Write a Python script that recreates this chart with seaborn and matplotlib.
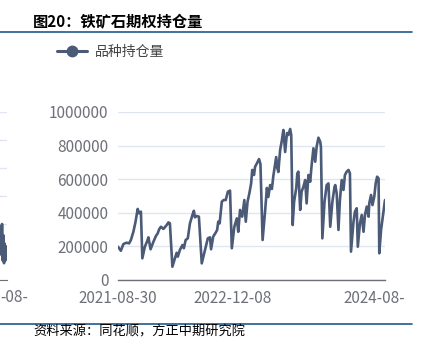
import matplotlib
matplotlib.use("Agg")
import matplotlib.pyplot as plt
from matplotlib.lines import Line2D
from matplotlib.transforms import ScaledTranslation
import seaborn as sns
import pandas as pd

# ---------------- data ----------------
title = "图20：铁矿石期权持仓量"
source = "资料来源：同花顺，方正中期研究院"
series_name = "品种持仓量"

# trading-day index along the category axis
day_index = [0, 8, 15, 24, 31, 36, 43, 49, 55, 59, 64, 68, 75, 82, 85, 91, 99, 106, 111, 115,
             120, 127, 136, 141, 145, 152, 159, 164, 167, 173, 180, 184, 189, 195, 201, 208, 212,
             215, 220, 226, 234, 243, 251, 257, 260, 266, 273, 277, 280, 284, 290, 295, 301, 307,
             313, 318, 325, 332, 336, 341, 347, 353, 357, 362, 367, 372, 375, 380, 383, 388, 394,
             398, 404, 411, 416, 420, 425, 430, 434, 442, 445, 448, 453, 458, 462, 467, 472, 476,
             481, 484, 488, 492, 498, 501, 504, 509, 513, 518, 523, 527, 532, 537, 541, 546, 551,
             555, 560, 565, 567, 571, 577, 583, 588, 593, 599, 605, 607, 611, 616, 620, 625, 630,
             634, 639, 644, 648, 651, 658, 662, 667, 670, 676, 681, 686, 690, 695, 700, 702, 707,
             711, 716, 720, 724, 728, 730, 735, 740, 746]
open_interest = [198000, 174000, 214000, 222000, 218000, 238000, 287000, 347000, 423000, 397000,
                 407000, 129000, 198000, 234000, 254000, 183000, 228000, 262000, 278000, 302000,
                 317000, 304000, 327000, 343000, 337000, 79000, 129000, 162000, 139000, 179000,
                 208000, 189000, 238000, 248000, 337000, 387000, 412000, 373000, 381000, 377000,
                 99000, 179000, 248000, 254000, 183000, 258000, 282000, 298000, 347000, 337000,
                 466000, 476000, 476000, 526000, 532000, 189000, 317000, 367000, 287000, 417000,
                 377000, 476000, 347000, 466000, 516000, 575000, 655000, 625000, 674000, 694000,
                 720000, 690000, 238000, 410000, 548000, 494000, 565000, 542000, 619000, 732000,
                 667000, 643000, 774000, 833000, 893000, 762000, 875000, 863000, 899000, 863000,
                 327000, 466000, 546000, 635000, 645000, 417000, 526000, 555000, 595000, 456000,
                 625000, 585000, 684000, 784000, 704000, 793000, 847000, 823000, 793000, 248000,
                 466000, 565000, 575000, 317000, 466000, 555000, 565000, 516000, 298000, 476000,
                 595000, 536000, 625000, 645000, 655000, 635000, 169000, 347000, 407000, 427000,
                 198000, 337000, 387000, 287000, 387000, 437000, 377000, 456000, 506000, 446000,
                 496000, 575000, 615000, 605000, 159000, 298000, 377000, 476000]
tick_index = [0, 320, 640, 746]
tick_labels = ["2021-08-30", "2022-12-08", "2024-08-", ""]
y_ticks = [0, 200000, 400000, 600000, 800000, 1000000]

# neighbouring (cropped) chart at the left edge
left_index = [90, 91, 92, 93, 94, 95, 96, 97, 98, 99, 100]
left_values = [1.3, 1.9, 0.9, 2.0, 0.7, 1.6, 0.6, 1.3, 0.7, 1.2, 0.8]
left_label = "-08-"

# ---------------- style ----------------
sns.set_style("white")
plt.rcParams["font.family"] = ["Noto Sans CJK SC", "DejaVu Sans"]

W, H = 425, 354
fig = plt.figure(figsize=(W / 100, H / 100), dpi=100)

line_color = "#4B5A77"
grid_color = "#E0E6F1"
label_color = "#6E7079"
rule_color = "#1F5A8C"
tick_fs = 11

def fx(px):
    return px / W

def fy(py):
    return 1 - py / H

# main axes
ax = fig.add_axes([fx(118), fy(280), fx(385) - fx(118), fy(112) - fy(280)])
df = pd.DataFrame({"idx": day_index, "val": open_interest})
sns.lineplot(data=df, x="idx", y="val", ax=ax, color=line_color, linewidth=1.9, legend=False)
ax.set_xlim(0, 746)
ax.set_ylim(0, 1000000)
ax.set_yticks(y_ticks)
ax.set_yticklabels([str(v) for v in y_ticks])
ax.set_xticks(tick_index)
ax.set_xticklabels(tick_labels)
ax.set_xlabel("")
ax.set_ylabel("")
ax.grid(axis="y", color=grid_color, linewidth=1)
ax.grid(axis="x", visible=False)
for s in ["top", "right", "left"]:
    ax.spines[s].set_visible(False)
ax.spines["bottom"].set_color(label_color)
ax.spines["bottom"].set_linewidth(1)
ax.tick_params(axis="y", length=0, pad=7, labelsize=tick_fs, labelcolor=label_color)
ax.tick_params(axis="x", length=4, width=1, color=label_color, direction="out", pad=3,
               labelsize=tick_fs, labelcolor=label_color)
lbl = ax.get_xticklabels()[2]
lbl.set_horizontalalignment("left")
lbl.set_transform(lbl.get_transform() + ScaledTranslation(-4 / 100, 0, fig.dpi_scale_trans))

# legend
handle = Line2D([], [], color=line_color, linewidth=2.2, marker="o", markersize=7.5,
                markerfacecolor=line_color, markeredgecolor=line_color)
leg = ax.legend([handle], [series_name], loc="center left",
                bbox_to_anchor=(fx(57), fy(52)), bbox_transform=fig.transFigure,
                frameon=False, fontsize=10, handlelength=2.15, handletextpad=0.6,
                borderpad=0, borderaxespad=0)
for t in leg.get_texts():
    t.set_color("#444444")

# cropped neighbour chart on the far left
ax2 = fig.add_axes([fx(-60), fy(280), fx(66.7) - fx(0), fy(112) - fy(280)])
sns.lineplot(x=left_index, y=left_values, ax=ax2, color=line_color, linewidth=1.9, legend=False)
ax2.set_xlim(0, 100)
ax2.set_ylim(0, 6)
ax2.set_yticks(range(7))
ax2.set_yticklabels([])
ax2.set_xticks([100])
ax2.set_xticklabels([""])
ax2.grid(axis="y", color=grid_color, linewidth=1)
ax2.grid(axis="x", visible=False)
for s in ["top", "right", "left"]:
    ax2.spines[s].set_visible(False)
ax2.spines["bottom"].set_color(label_color)
ax2.tick_params(axis="y", length=0)
ax2.tick_params(axis="x", length=4, width=1, color=label_color)
fig.text(fx(0.5), fy(298), left_label, ha="left", va="center", fontsize=tick_fs, color=label_color)

# title, rules, source
fig.text(fx(33), fy(22), title, ha="left", va="center", fontsize=11, fontweight="bold", color="#000000")
fig.add_artist(Line2D([0, fx(412)], [fy(32.3), fy(32.3)], color=rule_color, linewidth=1.2))
fig.add_artist(Line2D([0, fx(412)], [fy(324), fy(324)], color=rule_color, linewidth=1.2))
fig.text(fx(33), fy(332), source, ha="left", va="center", fontsize=9.5, color="#000000",
         style="italic")

fig.savefig("out.png", dpi=100)
